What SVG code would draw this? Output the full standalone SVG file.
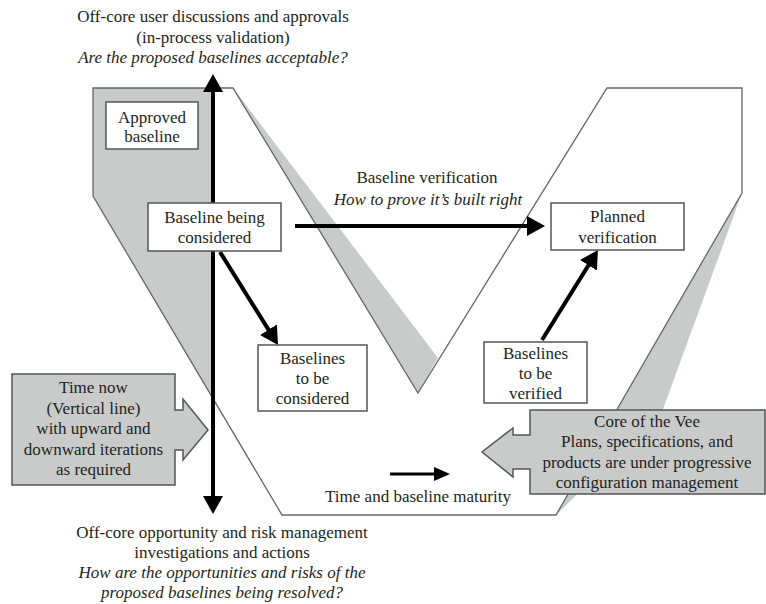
<svg xmlns="http://www.w3.org/2000/svg" width="766" height="604" viewBox="0 0 766 604">
<style>
.t{font-family:"Liberation Serif","Times New Roman",serif;font-size:17px;fill:#231f20;text-anchor:middle}
.i{font-style:italic}
.box{fill:#fff;stroke:#555;stroke-width:1.5}
.gbox{fill:#c9cbcb;stroke:#555;stroke-width:1.5}
.edge{stroke:#000;stroke-width:4;fill:none}
.thin{stroke:#000;stroke-width:3;fill:none}
.vee{fill:none;stroke:#666;stroke-width:1.3}
.shade{fill:#c9cbcb;stroke:none}
</style>
<defs>
<marker id="ah" markerUnits="userSpaceOnUse" markerWidth="18" markerHeight="20" viewBox="0 0 18 20" refX="2" refY="10" orient="auto-start-reverse"><path d="M0,0 L18,10 L0,20 z" fill="#000"/></marker>
<marker id="ahs" markerUnits="userSpaceOnUse" markerWidth="16" markerHeight="14" viewBox="0 0 16 14" refX="1" refY="7" orient="auto"><path d="M0,0 L16,7 L0,14 z" fill="#000"/></marker>
</defs>
<rect width="766" height="604" fill="#fff"/>
<g id="vee">
<polygon class="shade" points="93,88 211,88 211,395 93,196"/>
<polygon class="shade" points="233,88 438,358 418,393"/>
<polygon class="shade" points="742,193 662,412 556,515"/>
<polygon class="vee" points="93,88 233,88 418,393 607,88 742,88 742,193 556,515 282,515 93,196"/>
</g>
<g id="connectors">
<line class="edge" x1="213" y1="90" x2="213" y2="498" marker-start="url(#ah)" marker-end="url(#ah)"/>
<line class="edge" x1="295" y1="226" x2="529" y2="226" marker-end="url(#ah)"/>
<line class="edge" x1="220" y1="252" x2="269.5" y2="331.4" marker-end="url(#ah)"/>
<line class="edge" x1="542" y1="340" x2="589.5" y2="263.6" marker-end="url(#ah)"/>
<line class="thin" x1="390" y1="474" x2="435" y2="474" marker-end="url(#ahs)"/>
</g>
<g id="approved">
<rect class="box" x="106" y="102" width="92" height="47"/>
<text class="t" x="152" y="122.5">Approved</text>
<text class="t" x="152" y="142">baseline</text>
</g>
<g id="being-considered">
<rect class="box" x="148" y="203" width="133" height="48"/>
<text class="t" x="214.5" y="222.5">Baseline being</text>
<text class="t" x="214.5" y="242.5">considered</text>
</g>
<g id="to-be-considered">
<rect class="box" x="258" y="345" width="109" height="66"/>
<text class="t" x="312.5" y="363.5">Baselines</text>
<text class="t" x="312.5" y="383.5">to be</text>
<text class="t" x="312.5" y="403.5">considered</text>
</g>
<g id="planned">
<rect class="box" x="551" y="203" width="133" height="47"/>
<text class="t" x="617.5" y="221.5">Planned</text>
<text class="t" x="617.5" y="242.5">verification</text>
</g>
<g id="to-be-verified">
<rect class="box" x="484" y="342" width="103" height="61"/>
<text class="t" x="535.5" y="358.5">Baselines</text>
<text class="t" x="535.5" y="378.5">to be</text>
<text class="t" x="535.5" y="398.5">verified</text>
</g>
<g id="time-now">
<polygon class="gbox" points="12,374 175,374 175,410 183,410 183,399 208,430 183,460 183,450 175,450 175,485 12,485"/>
<text class="t" x="93.5" y="393">Time now</text>
<text class="t" x="93.5" y="414">(Vertical line)</text>
<text class="t" x="93.5" y="434">with upward and</text>
<text class="t" x="93.5" y="455">downward iterations</text>
<text class="t" x="93.5" y="475">as required</text>
</g>
<g id="core">
<polygon class="gbox" points="765,410 530,410 530,435 513,435 513,428 482,452 513,477 513,469 530,469 530,494 765,494"/>
<text class="t" x="647" y="427">Core of the Vee</text>
<text class="t" x="647" y="447">Plans, specifications, and</text>
<text class="t" x="647" y="468">products are under progressive</text>
<text class="t" x="647" y="488">configuration management</text>
</g>
<g id="labels">
<text class="t" x="213" y="22">Off-core user discussions and approvals</text>
<text class="t" x="213" y="43">(in-process validation)</text>
<text class="t i" x="213" y="63">Are the proposed baselines acceptable?</text>
<text class="t" x="427" y="183">Baseline verification</text>
<text class="t i" x="428" y="205">How to prove it’s built right</text>
<text class="t" x="418" y="502">Time and baseline maturity</text>
<text class="t" x="222" y="538">Off-core opportunity and risk management</text>
<text class="t" x="222" y="558">investigations and actions</text>
<text class="t i" x="222" y="578">How are the opportunities and risks of the</text>
<text class="t i" x="222" y="598">proposed baselines being resolved?</text>
</g>
</svg>
